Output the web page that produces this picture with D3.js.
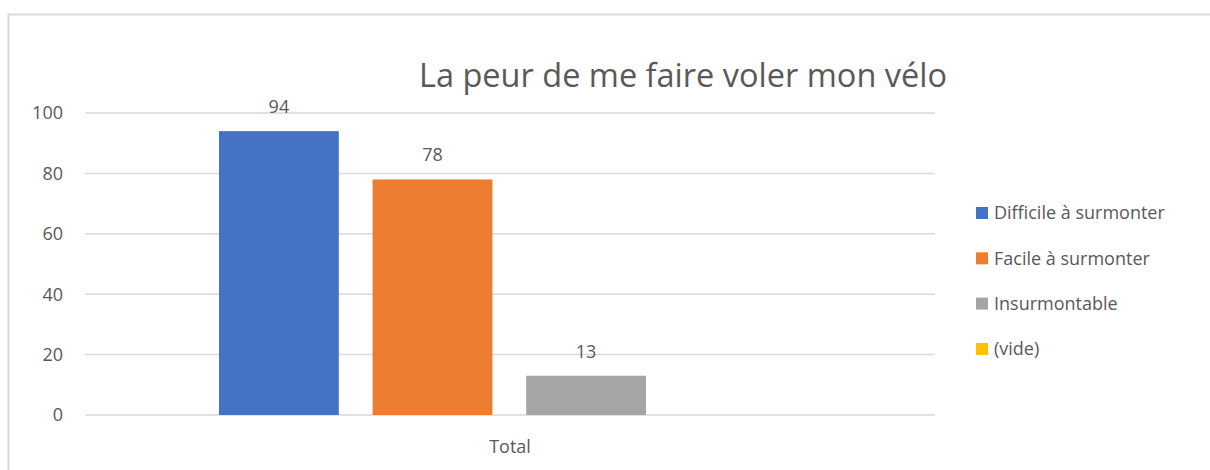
<!DOCTYPE html>
<meta charset="utf-8">
<head>
  <title>La peur de me faire voler mon vélo</title>
  <style>
    body { margin: 0; background: #fff; font-family: "Open Sans", sans-serif; }
    svg text { fill: #595959; }
  </style>
  <script src="https://d3js.org/d3.v7.min.js"></script>
</head>
<body>
  <div id="content">
    <svg width="1210" height="470"></svg>
  </div>
  <script>
var categories = ['Total'];
var seriesNames = ['Difficile à surmonter', 'Facile à surmonter', 'Insurmontable', '(vide)'];
var seriesValues = [94, 78, 13, null];
var colors = ['#4472c4', '#ed7d31', '#a5a5a5', '#ffc000'];
var yTicks = [0, 20, 40, 60, 80, 100];

var svg = d3.select('svg');

// chart frame
svg.append('rect')
  .attr('x', 8.5).attr('y', 14.5)
  .attr('width', 1220).attr('height', 470)
  .attr('fill', 'none').attr('stroke', '#d9d9d9').attr('stroke-width', 2);

var y = d3.scaleLinear().domain([0, 100]).range([415, 113]);
var x = d3.scaleBand().domain(categories).range([85, 935]);
// inner scale for the 3 drawn bars
var xs = d3.scaleBand().domain(seriesNames.slice(0, 3))
  .range([219, 646]).paddingInner(0.22);

svg.append('g')
  .selectAll('line')
  .data(yTicks)
  .join('line')
  .attr('x1', 85).attr('x2', 935)
  .attr('y1', d => y(d)).attr('y2', d => y(d))
  .attr('stroke', '#d9d9d9').attr('stroke-width', 1.5);

svg.append('g')
  .selectAll('text')
  .data(yTicks)
  .join('text')
  .attr('x', 63).attr('y', d => y(d))
  .attr('dy', '0.35em')
  .attr('text-anchor', 'end')
  .attr('font-size', 18)
  .text(d => d);

var bars = seriesNames.slice(0, 3).map((n, i) => ({ name: n, value: seriesValues[i], color: colors[i] }));

svg.append('g')
  .selectAll('rect')
  .data(bars)
  .join('rect')
  .attr('x', d => xs(d.name))
  .attr('width', xs.bandwidth())
  .attr('y', d => y(d.value))
  .attr('height', d => y(0) - y(d.value))
  .attr('fill', d => d.color);

svg.append('g')
  .selectAll('text')
  .data(bars)
  .join('text')
  .attr('x', d => xs(d.name) + xs.bandwidth() / 2)
  .attr('y', d => y(d.value) - 18)
  .attr('text-anchor', 'middle')
  .attr('font-size', 18)
  .attr('fill', '#404040')
  .text(d => d.value);

svg.append('g')
  .selectAll('text')
  .data(categories)
  .join('text')
  .attr('x', d => x(d) + x.bandwidth() / 2)
  .attr('y', 453)
  .attr('text-anchor', 'middle')
  .attr('font-size', 18)
  .text(d => d);

svg.append('text')
  .attr('x', 683).attr('y', 87)
  .attr('text-anchor', 'middle')
  .attr('font-size', 32.5)
  .text('La peur de me faire voler mon vélo');

var legend = svg.append('g')
  .selectAll('g')
  .data(seriesNames)
  .join('g')
  .attr('transform', (d, i) => 'translate(976,' + (213 + i * 45.3) + ')');

legend.append('rect')
  .attr('x', 0).attr('y', -6)
  .attr('width', 12).attr('height', 12)
  .attr('fill', (d, i) => colors[i]);

legend.append('text')
  .attr('x', 18).attr('dy', '0.35em')
  .attr('font-size', 18)
  .text(d => d);
  </script>
</body>
</html>
